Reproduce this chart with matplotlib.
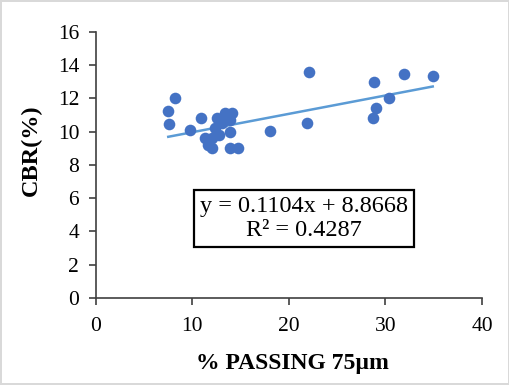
import numpy as np
import matplotlib.pyplot as plt

# --- data ---
passing_75um = [7.5, 7.6, 8.2, 9.8, 10.9, 11.3, 11.6, 12.0, 12.0, 12.3, 12.5, 12.8,
                13.1, 13.4, 13.9, 13.9, 14.1, 13.9, 14.7, 18.0, 22.1, 21.9,
                28.7, 28.8, 29.0, 30.4, 31.9, 34.9]
cbr = [11.25, 10.45, 12.0, 10.1, 10.8, 9.6, 9.2, 9.0, 9.6, 10.2, 10.8, 9.8,
       10.5, 11.1, 10.7, 10.0, 11.1, 9.0, 9.0, 10.05, 13.6, 10.5,
       10.8, 13.0, 11.4, 12.0, 13.5, 13.35]

slope = 0.1104
intercept = 8.8668
r_squared = 0.4287

x_ticks = [0, 10, 20, 30, 40]
y_ticks = [0, 2, 4, 6, 8, 10, 12, 14, 16]

plt.rcParams['font.family'] = ['Liberation Serif', 'DejaVu Serif']

fig = plt.figure(figsize=(5.1, 3.85), dpi=100)
fig.patch.set_edgecolor('#d9d9d9')
fig.patch.set_linewidth(1.5)
ax = fig.add_axes([0.188, 0.226, 0.757, 0.691])

ax.scatter(passing_75um, cbr, s=70, color='#4472C4', zorder=3, linewidths=0)

# linear trendline
x_fit = np.array([min(passing_75um), max(passing_75um)])
ax.plot(x_fit, slope * x_fit + intercept, color='#5B9BD5', linewidth=1.8, zorder=2)

ax.set_xlim(0, 40)
ax.set_ylim(0, 16)
ax.set_xticks(x_ticks)
ax.set_yticks(y_ticks)
ax.tick_params(labelsize=15.5, direction='out', length=5, width=1.2, color='#404040')
ax.tick_params(axis='x', pad=9)
ax.tick_params(axis='y', pad=7)
for side in ['top', 'right']:
    ax.spines[side].set_visible(False)
for side in ['left', 'bottom']:
    ax.spines[side].set_color('#404040')
    ax.spines[side].set_linewidth(1.2)

ax.set_xlabel('% PASSING 75µm', fontsize=17, fontweight='bold')
ax.xaxis.set_label_coords(0.508, -0.205)
ax.set_ylabel('CBR(%)', fontsize=17.5, fontweight='bold')
ax.yaxis.set_label_coords(-0.14, 0.556)

eq_text = f'y = {slope:.4f}x + {intercept:.4f}\nR² = {r_squared:.4f}'
ax.text(0.539, 0.30, eq_text, transform=ax.transAxes, fontsize=17.5,
        ha='center', va='center', linespacing=1.2,
        bbox=dict(boxstyle='square,pad=0.25', facecolor='white', edgecolor='black', linewidth=1.6))

plt.savefig('out.png', dpi=100)
